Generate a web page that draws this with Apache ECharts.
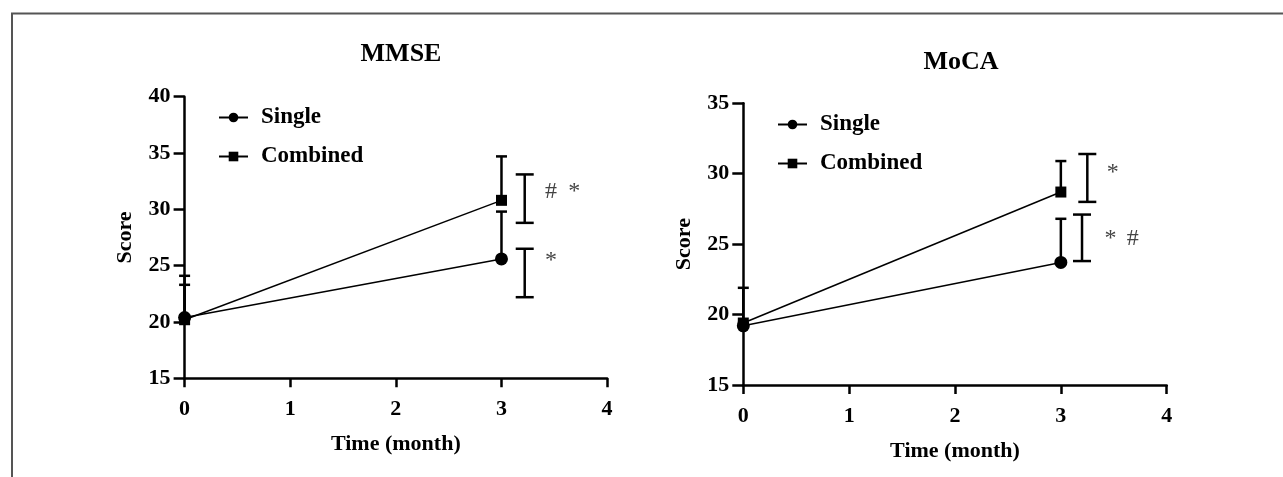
<!DOCTYPE html>
<html>
<head>
<meta charset="utf-8">
<script src="https://cdn.jsdelivr.net/npm/echarts@6/dist/echarts.min.js"></script>
<style>
  html, body { margin: 0; padding: 0; background: #fff; }
  #chart { width: 1283px; height: 477px; }
</style>
</head>
<body>
<div id="chart"></div>
<script>
// time points (month)
var months = [0, 3];

// MMSE
var mmseSingle = [20.4, 25.6];
var mmseCombined = [20.2, 30.8];
var mmseSingleErr = [24.1, 29.8];     // upper end of error bar
var mmseCombinedErr = [23.3, 34.7];
// significance brackets: [x, low, high]
var mmseBrackets = [[3.22, 28.8, 33.1], [3.22, 22.2, 26.5]];
var mmseMarks = [[3.47, 31.6, '#'], [3.69, 31.6, '*'], [3.47, 25.4, '*']];

// MoCA
var mocaSingle = [19.2, 23.7];
var mocaCombined = [19.4, 28.7];
var mocaSingleErr = [21.9, 26.8];
var mocaCombinedErr = [19.4, 30.9];
var mocaBrackets = [[3.25, 28.0, 31.4], [3.2, 23.8, 27.1]];
var mocaMarks = [[3.49, 30.1, '*'], [3.47, 25.4, '*'], [3.68, 25.4, '#']];

var FONT = '"Liberation Serif", "Times New Roman", serif';

function pairs(ys) {
  return months.map(function (m, i) { return [m, ys[i]]; });
}
function errData(mean, hi) {
  return months.map(function (m, i) { return [m, mean[i], hi[i]]; });
}

function barRender(capW, lowCap) {
  return function (params, api) {
    var x = api.value(0);
    var lo = api.coord([x, api.value(1)]);
    var hi = api.coord([x, api.value(2)]);
    var s = { stroke: '#000', lineWidth: 2.5 };
    var kids = [
      { type: 'line', shape: { x1: lo[0], y1: lo[1], x2: hi[0], y2: hi[1] }, style: s },
      { type: 'line', shape: { x1: hi[0] - capW / 2, y1: hi[1], x2: hi[0] + capW / 2, y2: hi[1] }, style: s }
    ];
    if (lowCap) {
      kids.push({ type: 'line', shape: { x1: lo[0] - capW / 2, y1: lo[1], x2: lo[0] + capW / 2, y2: lo[1] }, style: s });
    }
    return { type: 'group', children: kids };
  };
}

function markRender(params, api) {
  var p = api.coord([api.value(0), api.value(1)]);
  return {
    type: 'text',
    x: p[0], y: p[1],
    style: {
      text: String(api.value(2)),
      fontFamily: FONT, fontSize: 24, fill: '#444',
      align: 'center', verticalAlign: 'middle'
    }
  };
}

function xAxis(idx) {
  return {
    type: 'value', gridIndex: idx, min: 0, max: 4, interval: 1,
    name: 'Time (month)', nameLocation: 'middle', nameGap: 55,
    nameTextStyle: { fontFamily: FONT, fontWeight: 'bold', fontSize: 22, color: '#000' },
    axisLine: { onZero: false, lineStyle: { color: '#000', width: 2.5 } },
    axisTick: { length: 9, lineStyle: { color: '#000', width: 2.5 } },
    axisLabel: { fontFamily: FONT, fontWeight: 'bold', fontSize: 22, color: '#000', margin: 20 },
    splitLine: { show: false }
  };
}
function yAxis(idx, min, max) {
  return {
    type: 'value', gridIndex: idx, min: min, max: max, interval: 5,
    name: 'Score', nameLocation: 'middle', nameGap: 48, nameRotate: 90,
    nameTextStyle: { fontFamily: FONT, fontWeight: 'bold', fontSize: 22, color: '#000' },
    axisLine: { show: true, onZero: false, lineStyle: { color: '#000', width: 2.5 } },
    axisTick: { show: true, length: 11, lineStyle: { color: '#000', width: 2.5 } },
    axisLabel: { fontFamily: FONT, fontWeight: 'bold', fontSize: 22, color: '#000', margin: 14 },
    splitLine: { show: false }
  };
}

function lineSeries(name, idx, ys, symbol) {
  return {
    name: name, type: 'line', xAxisIndex: idx, yAxisIndex: idx,
    data: pairs(ys), symbol: symbol, symbolSize: symbol === 'rect' ? 11 : 13,
    lineStyle: { color: '#000', width: 1.5 },
    itemStyle: { color: '#000' },
    z: 5, animation: false
  };
}
function customSeries(idx, data, render, z) {
  return {
    type: 'custom', xAxisIndex: idx, yAxisIndex: idx,
    data: data, renderItem: render, z: z, silent: true, animation: false
  };
}

function legend(left, top) {
  return {
    data: ['Single', 'Combined'], orient: 'vertical', left: left, top: top,
    itemWidth: 29, itemHeight: 12, itemGap: 16,
    textStyle: { fontFamily: FONT, fontWeight: 'bold', fontSize: 23, color: '#000', padding: [0, 0, 0, 8] }
  };
}

var chart = echarts.init(document.getElementById('chart'));
chart.setOption({
  backgroundColor: '#fff',
  animation: false,
  title: [
    { text: 'MMSE', left: 396, top: 36, textAlign: 'center',
      textStyle: { fontFamily: FONT, fontWeight: 'bold', fontSize: 26, color: '#000' } },
    { text: 'MoCA', left: 956, top: 44, textAlign: 'center',
      textStyle: { fontFamily: FONT, fontWeight: 'bold', fontSize: 26, color: '#000' } }
  ],
  legend: [legend(213, 101), legend(772, 108)],
  grid: [
    { left: 184.6, top: 96.7, width: 422.5, height: 281.6 },
    { left: 743.3, top: 103.3, width: 423.4, height: 281.7 }
  ],
  xAxis: [xAxis(0), xAxis(1)],
  yAxis: [yAxis(0, 15, 40), yAxis(1, 15, 35)],
  graphic: [
    { type: 'polyline', shape: { points: [[12, 477], [12, 13.5], [1283, 13.5]] },
      style: { stroke: '#555', lineWidth: 2, fill: null }, silent: true }
  ],
  series: [
    customSeries(0, errData(mmseSingle, mmseSingleErr), barRender(11, false), 3),
    customSeries(0, errData(mmseCombined, mmseCombinedErr), barRender(11, false), 3),
    lineSeries('Single', 0, mmseSingle, 'circle'),
    lineSeries('Combined', 0, mmseCombined, 'rect'),
    customSeries(0, mmseBrackets, barRender(18, true), 3),
    customSeries(0, mmseMarks, markRender, 3),

    customSeries(1, errData(mocaSingle, mocaSingleErr), barRender(11, false), 3),
    customSeries(1, errData(mocaCombined, mocaCombinedErr), barRender(11, false), 3),
    lineSeries('Single', 1, mocaSingle, 'circle'),
    lineSeries('Combined', 1, mocaCombined, 'rect'),
    customSeries(1, mocaBrackets, barRender(18, true), 3),
    customSeries(1, mocaMarks, markRender, 3)
  ]
});
</script>
</body>
</html>
